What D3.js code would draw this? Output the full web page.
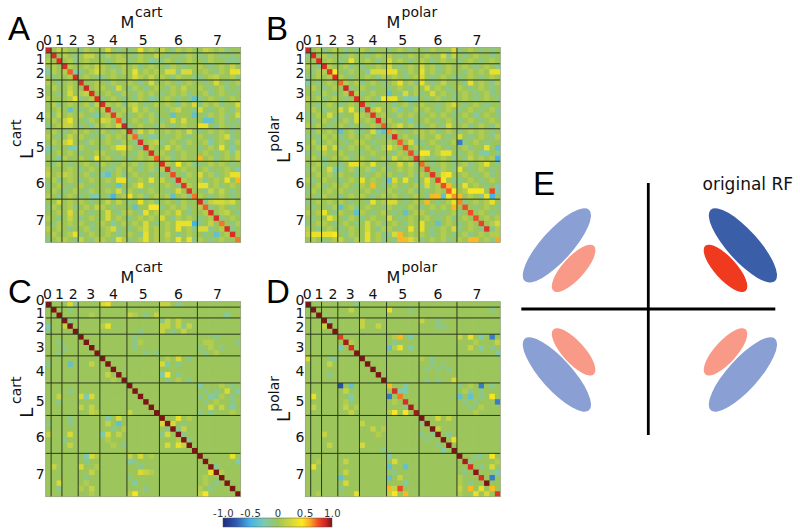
<!DOCTYPE html>
<html><head><meta charset="utf-8">
<script src="https://cdnjs.cloudflare.com/ajax/libs/d3/7.8.5/d3.min.js"></script>
<style>html,body{margin:0;padding:0;background:#fff}svg{display:block}</style>
</head><body><svg id="c" width="800" height="531"></svg>
<script>
// ---- tick labels / categories ----
const groupSizes = [1,2,3,4,5,6,7,8];
const groupLabels = ["0","1","2","3","4","5","6","7"];
const topLabelAt  = [0.24,2.45,5.0,8.2,12.4,17.9,24.4,31.6];
const leftLabelAt = [-0.28,2.1,4.7,8.4,12.8,18.4,25.0,31.8];
const barTicks = [-1,-0.5,0,0.5,1];
const barTickLabels = ["-1.0","-0.5","0","0.5","1.0"];
// ---- value codes used by the matrix rows ----
const codeValues = {".":0,"a":-0.12,"b":-0.22,"c":-0.36,"d":-0.5,"e":-0.66,"f":-0.8,
  "1":0.1,"2":0.18,"3":0.26,"4":0.35,"5":0.43,"6":0.56,"8":0.76};
// ---- panel A (rows split by the 1,2,...,8 groups) ----
const rowsA = [
". .2 1.. a1.. .3.a. a.4.1. 2.a1.1. .21.1a..",
". .. 1.a .22. a1.1. .a1..2 .a..a1. a.1.a.a.",
"1 .. .1a .1.. .a.11 a.1.ba a1.a.1. .a1..aaa",
". 1. .1. .1.2 1.a.1 .1a.1. .a1.a.. 1.a.1.2.",
"b 1. 1.b a.13 1.1a1 .4.1.1 .33a33. .1.a1.44",
". a. .1a .1.a a.1.. .31.2. 1.a1..a a.12..1a",
"1 .a .1. 1..1 .a1.. 1.a.3. .1.a.1. .a.3.a.1",
". 1. .2. .a.1 1.a3. a1.a.1 .a1.2.. 1.a.1a.a",
". .a .3. 12a. .1.a1 .a1.1. a.1.1a. .1a.1.a.",
"1 .. .14 a.1. a.1.a .a1.ba .1.a.ac a.1.a.1.",
". 1a .1. .1a2 .1.1a 12.a.1 .1.a1.3 a1.1a..3",
". .1 .c. a.1. 1.a.1 .3.1a. .a12..a 3.a.1.a1",
"1 a2 .1. 1.ab .1.1. a.1.1a ..c...c .a1.1a.3",
". 1. 24. .a1. 32.1a .1.a1. a.3.3.. .cc.1a.a",
"a .1 22. a.b1 .1.3. a.1..a 1.a.1.. 44.a1.a.",
". 1. a.1 .1.a 1.a.1 .a3.2. .1.1.3. a.1.1.a.",
"1 .a .2. 1.a. a1.1. 1.a.ba .a.1.a. 1.a.13a.",
". 1. 24. .a1. .1.a1 .a1.12 a.1.a1. .1b.1.a1",
"b a. .bb 1.a. a.144 1.a.1. .3.1a.. a.1.4.b.",
"a .1 .1. a..1 1.a.1 .a1.a. 1.a.1.. .1.a.1a2",
". .b 1.. 1.a5 .1.a. a.1.1a .1a.1.. 6.1a.1.2",
". a1 .a. .1.a 1.a.1 .1a.1. .1.5.1a a.1.1.a.",
"1 .. .1. a.1. .aa1. 1.a.1a 1.a.1.. .1a..1.b",
"2 .1 21. .1a. bc.1a .1..a. a.1.a1. 3.1a.144",
". 1a .1. a.1. .1.44 a.1.4. 2.a.1.. 1a.1.4.6",
"a .1 .a. 1.a. .a.c. .14.a. .1.a.1. 44.1a.1.",
". 1. a.1 .a1. .1.3a 1.a.1. .a.3.1. .a2.2.a.",
"1 .a .1. a.bb .ad.1 4.1a.1 .1c.1a. 1.a.1.a.",
". .3 .1. 1.a. .2.2. a.4.1a .1.a1.. .a23323.",
"a 1. .1a .1.2 1.a.. .c..55 a.1.1a. 1.a.1.a.",
". .1 .3. 1.a. .3.a1 1.a4.1 .1.3.a. .1a.12.a",
"1 .a .2. a.1. .3.1. a.1.1. 3.a1.1. a.1.a.1.",
". a1 .1. 1.a. 1.b.1 .1.3.a .1.444d a.2.1.a1",
"1 .1 .a. .1a. .13a. a.13.1 .1.4.1a 33a.1.a.",
". 1. .14 a.1. .1.a. 1.a4.1 .2.a.1. .a.c.1a.",
"a .1 1.a 2.a1 1.a41 a.14.1 .1.4.4a 1.a.1..1"];
const diagA = [.88,.85,.85,.85,.72,.85,.85,.88,.85,.85,.85,.85,.8,.72,.88,.85,.7,.85,.85,.85,.72,.85,.85,.75,.85,.82,.82,.68,.85,.72,.85,.85,.68,.85,.85,.68];
// ---- panel B ----
const rowsB = [
". .1 a.1 .a.a 1.a.. a.1.a. .a1...3 a.1.a.a.",
"a .. 1a. .a1. .a.1. 1.a.1. .1..3a2 .a.1..a.",
". .. .1. a.4. .1.a. 3.1.a. 1.a.1.. a.1.a.1.",
"1 .a .1. .1a. a..1. 3.a.1. 3.1a.1. .1.a.1.a",
". a1 1.5 .a1. .b333 44.a1. 4.1a.1. .a1.1.44",
"a .1 .1. 1.a. .1.a1 .1.a.1 3.a.1.a a.1.a.1.",
"b .a .1. .1.1 a.1.a .14.1a 4.a.2.. .a4.1.a1",
". 1. a.1 .1a. 1.a.. a.1.a1 .3.1.a. 1.a.1.a.",
". .a 1.a .1.1 a.1.. c.a3.1 a.3.1.a .1.a.1a.",
"1 .1 a.1 .a.a .1.a5 44.bbb .a.1a.a .1.a.1.a",
". .a .1. a.1. 1.a.. .a.1a. 1..a.13 .a.1.a..",
". 1. a.. 3.4. a.13. .1b.a1 .1.a.1. a.1.a.1a",
"a .1 .3. a..3 1.a.1 .a1.1. a.1.1.a .1.b.1.a",
". a. 1.a .1a3 .1.a. 1.a.b. .1.a.1. a.1.a.1.",
"1 .1 .a. 1.a. a.1.1 .13.1a a.1.a3. .1a.1.a1",
". a1 .1. c.1a a.3bc .1.a.1 1.1a.1. a.1.1.a.",
"a .a 1.1 a.1. .1.a. a2.1.a 1..2.a. 3.a.1.a1",
". 1a .1. .a.1 1.a.. 1.a.3a a.1.a.1 ea.1.a..",
"1 .1 3.3 a.1. .1.a1 41.a.1 .a.1.a. .1a..4.c",
"a .a 1.. 1.a. a.1.. .a1.1a 55.144. a.1.bb.a",
". 1. a.1 .1a. 1.a.1 a3.1.a 1.a.1.a .a2.1.1d",
". .1 a.. a.44 1.4.a ..3.2a 1.a.1.a .1a.14.a",
"a 1. .3b b.1a .1b.1 a.1.1. .4.a1.a 4.a.1.a.",
". .1 .1a 1..a .a.1. 1.a.1a 1.a.45. .1.a.1a.",
"1 a. 1.. a.1. 4.1.a c3.4.a .4.a5.a a.1.a.1.",
". .1 a.1 .1.a 1.6.a .1.a.1 a3.1.6. .4.1.a.b",
"a 1. .1. 1.a. .1.a. 1.a.1a .a.1.a5 .1555.8b",
". .a 1.. a.1. 1.a.1 .1.a.1 .a66c56 6.1.a4d.",
"a .1 .1. 1.a. .a4.1 33.a.1 .6.a.14 .a.1.14.",
". a. .a1 c.1a .1..a 1.a.1. a.1.1.6 .1.a.1.a",
"1 .1 4.a 1..c 1.a.1 .a.c.1 1.a.a.1 a.1.1.a.",
". a. .41 .a1. a.1.. 3.a.1. .1.a.1a .1.a.1.1",
"a .1 1.a .1.a .3.1a .1.a1. 4..c.1. a.1.a.13",
"1 .a .1. a.1. .3.a1 1.a.4. 4.a.1.3 a.1.a.a1",
"2 44 445 .a1. .4.1a a36.1. 1.a.1.a .1a.1.a1",
". 1. a.1 2.a1 .4.1a .a6631 a.1.1a. 1.66.1a6"];
const diagB = [.88,.85,.85,.85,.82,.85,.7,.88,.82,.85,.85,.82,.82,.85,.72,.62,.85,.72,.75,.75,.8,.7,.75,.82,.8,.75,.72,.62,.65,.75,.75,.75,.78,.82,.1,.6];
// ---- panel C ----
const rowsC = [
". .. .3a .... 34... ...... 22.a... ........",
". .. .a. .... ..... ...... ....... ........",
". .. ... ..1. ..... 21.a.2 ....... .....b..",
". .. .a. .... ..... ...... a2.2... ........",
"b .. 2.. .... 14... ...... 22.2a2. ........",
"a .. ... .... ..... ..a... 2.a.2.. ........",
". .. ... .... ..... .a.... ....... ...a....",
". .a ... .... ..... .a1... ....... .11....a",
". .. a.. .... ..... .a.... ....... a.1.a...",
". .a ... .... ..... ...a.a ....... .a.1....",
". .. ... .... ..... ...... .1.3.a. ........",
"a .. .c. ..2. .a... ...... 3b.a... ........",
". .. ... .... ..... ...... ....... ........",
". .. ... .... .2... ...... b5.a... ........",
". .. ... .... ..1.. ...... .a.1.a. ........",
". .. ... .... ..... a..... ....... b...1.a.",
". .. .a. .... ..... ...... ....... .a.a.3.b",
". .2 ... 3b3. ..... ...... ....... a.ba1.a.",
". .a ... .... ..... ...... ....... .a.1..a.",
". .. ... 2.2. ..... ...... ....... ..3.2.b.",
". .. ... ..21 ..... 2..... ....... a.a...1.",
". .. .a. .... .b.3. ...... ...4.1. ........",
"a .. .a. .... .2.c. ...... 3.3.a.. ........",
". .. ... .... ..a.1 ...... .a.a2.. ........",
"2 .. .3. .... b3.2. ...... a3..a.. ........",
". .. a.. .... .1... ...... ...1.a. ........",
". .. .2. .... ..1.a ...... .3.42.. ........",
". .. ... .... ..... ...... ....... ........",
". .. ... .b31 ..... 2.3.1. ....... ......4.",
". .. ... .a.. ..... ba.... ....... .......b",
". 2. ... 3..1 ..... ..a... ....... ...a....",
". .. ... ..2. ..... ..321. ....... ..4.1...",
". .. ... .a.. ..... a..... ....... .1......",
". .3 ... .1.. ..... .b.... ....... .1.a....",
". .a ... 1.2. ..... ...a.. ....... 1.a.....",
". .. ... ..1. ..... 15.... ....... 25......"];
const diagC = [1,1,1,1,1,1,1,1,1,1,1,1,1,1,1,1,1,1,1,1,1,1,1,1,1,1,1,1,1,1,1,1,1,1,1,1];
// ---- panel D ----
const rowsD = [
". .. ... ...a ..... ...... ....... ........",
". .. ... ..2. ..... 4...a. ....... ......a.",
". .. ... .... ..... ...... ....... ........",
". .. .a. .... 2.... ...... 2..a... ........",
". .. 2.. .... 2..2. ...... ...aa.. ........",
". .. ... .... ..... ...... ....... ........",
". .. ... .... ..... .16.b. ....... 2.4.b.e.",
". .. ... .11. ..... .a.... ....... ...1...2",
". .. ... b.a. ..... c14.b. ....... ..2.b.a.",
". .. ... .... ..... ...... ....... .......b",
"3 .. .aa .... ..... ...... 1.a.... ........",
". .. .2. .... ..... ...... ..a.a.. ........",
". .. ... .... ..... ...... .a.a.a. ........",
". .. .a. .... ..... ...... ....... ........",
". .. ... .... ..... ...... .a.a..3 ........",
". .. ... f.c. ..... ...b.. ....... a.1.e.a.",
". .. ... .2.. ..... ..bb.. ....... .1a.a...",
". 4. ... ..b. ..... e..... ....... c.c.a.5.",
". .. ... .1a. ..... .1.... ....... .a.a...e",
". 2. ... .2.1 ..... ...a.. ....... ..a.1...",
". .. ... ..2. ..... 15.5.. ....... ...1....",
". .. ... .... ..... ...... ...3.2. ........",
". .. ... .... 2.... ...... a...... ........",
". .. ... .... ..2.1 ...... ...2... ........",
". .. 2.. .... ...1. ...... a.a..a. ........",
". .. ... .... ..... ...... .a....4 ........",
". .. .2. .... 3.... ...... ...a... ........",
". .. ... .... ....a ...... ....b.. ........",
". .. ... .... ..... b..... ....... ...aa.5.",
". .1 ... .2.. ..... .3.... ....... ..a....1",
". 4. ... .... ..... c..c.. ....... ....a.3.",
". .. ... .2.. ..... .a.... ....... .a....ab",
". .. ... c... ..... c.2... ....... 1...a.e.",
". .. ... .3.. ..... ...b.. ....... 1.a.....",
". .. ... a... ..... 628... ....... 2.6.4.5.",
". .1 ... ...4 ..... 25.6.. ....... 1..4.3.8"];
const diagD = [1,1,1,1,1,1,.8,.93,.85,1,1,1,1,1,1,.55,.85,.68,.85,.93,.95,1,1,1,1,1,1,1,1,.93,.85,.97,.85,1,.55,.82];
// ---- colour map ----
const colorStops = [-1,-0.75,-0.5,-0.25,0,0.25,0.45,0.6,0.75,0.87,1];
const colorHexes = ["#1d2a80","#2f5cb0","#45b4ea","#7cc9b5","#9cc65c","#d4d83a","#fde81e","#f9a824","#f04a26","#d42828","#7a1414"];
// ---- panel E: lobes of the receptive field ----
const lobeX = [0.745,0.608,-0.72,-0.588,-0.72,-0.588,0.745,0.608];
const lobeY = [0.505,0.323,0.505,0.323,-0.52,-0.34,-0.52,-0.34];
const lobeLong = [0.378,0.238,0.378,0.238,0.378,0.238,0.378,0.238];
const lobeShort = [0.122,0.087,0.122,0.087,0.122,0.087,0.122,0.087];
const lobeTilt = [48,48,-48,-48,48,48,-48,-48];
const lobeFill = ["#3b5ea8","#f03a20","#8aa0d4","#f99a88","#8aa0d4","#f99a88","#8aa0d4","#f99a88"];

const svg = d3.select("#c");
const SANS = "'DejaVu Sans',sans-serif", HEAD = "'Liberation Sans',Arial,sans-serif";
const color = d3.scaleLinear().domain(colorStops).range(colorHexes).clamp(true);
const boundaries = d3.cumsum(groupSizes).slice(0,-1);

const defs = svg.append("defs");
defs.append("filter").attr("id","soft").attr("x","-2%").attr("y","-2%").attr("width","104%").attr("height","104%")
  .append("feGaussianBlur").attr("stdDeviation",0.45);

const panels = [
 {rows:rowsA,diag:diagA,x:45.7,y:47.5,letter:"A",lx:8,ly:39.5,m:"cart",mx:120.5,my:28,sx:135,sy:17,Lx:33,Ly:159,Sx:21,Sy:147},
 {rows:rowsB,diag:diagB,x:305.3,y:47.5,letter:"B",lx:266,ly:39.5,m:"polar",mx:386.5,my:28,sx:401.5,sy:17,Lx:290,Ly:163,Sx:279,Sy:151.7},
 {rows:rowsC,diag:diagC,x:45.7,y:301.7,letter:"C",lx:8,ly:302.7,m:"cart",mx:120.5,my:283.3,sx:135,sy:271.7,Lx:33,Ly:417.7,Sx:21,Sy:404},
 {rows:rowsD,diag:diagD,x:305.3,y:301.7,letter:"D",lx:266,ly:302.7,m:"polar",mx:386.5,my:283.3,sx:401.5,sy:271.7,Lx:290,Ly:422,Sx:279,Sy:411.7}
];
const SIZE = 195;
panels.forEach(p=>{
  const x = d3.scaleLinear().domain([0,36]).range([p.x,p.x+SIZE]);
  const y = d3.scaleLinear().domain([0,36]).range([p.y,p.y+SIZE]);
  const cells = [];
  p.rows.forEach((r,i)=>{
    r.replace(/ /g,"").split("").forEach((ch,j)=>cells.push({i,j,v: i===j ? p.diag[i] : codeValues[ch]}));
  });
  const g = svg.append("g");
  const cg = g.append("g").attr("filter","url(#soft)");
  // paint from the top-left so each cell's slight overlap hides the seam with its neighbour
  cg.selectAll("rect").data(cells).join("rect")
    .attr("x",d=>x(d.j)).attr("y",d=>y(d.i))
    .attr("width",d=>x(d.j+1)-x(d.j)+(d.j<35?0.7:0)).attr("height",d=>y(d.i+1)-y(d.i)+(d.i<35?0.7:0))
    .attr("fill",d=>color(d.v));
  g.selectAll("line.v").data(boundaries).join("line").attr("class","v")
    .attr("x1",d=>x(d)).attr("x2",d=>x(d)).attr("y1",y(0)).attr("y2",y(36))
    .attr("stroke","#2c3a1e").attr("stroke-width",1);
  g.selectAll("line.h").data(boundaries).join("line").attr("class","h")
    .attr("y1",d=>y(d)).attr("y2",d=>y(d)).attr("x1",x(0)).attr("x2",x(36))
    .attr("stroke","#2c3a1e").attr("stroke-width",1);
  g.append("rect").attr("x",x(0)).attr("y",y(0)).attr("width",SIZE).attr("height",SIZE)
    .attr("fill","none").attr("stroke","#8a9a78").attr("stroke-width",0.7);

  const top = svg.append("g").attr("transform",`translate(0,${p.y})`)
    .call(d3.axisTop(x).tickValues(topLabelAt).tickSize(0).tickPadding(2.5).tickFormat((d,i)=>groupLabels[i]));
  const left = svg.append("g").attr("transform",`translate(${p.x},0)`)
    .call(d3.axisLeft(y).tickValues(leftLabelAt).tickSize(0).tickPadding(1).tickFormat((d,i)=>groupLabels[i]));
  [top,left].forEach(a=>{a.select(".domain").remove();
    a.selectAll("text").attr("font-family",SANS).attr("font-size",14).attr("fill","#111");});

  svg.append("text").attr("x",p.lx).attr("y",p.ly).attr("font-family",HEAD).attr("font-size",33).attr("fill","#000").text(p.letter);
  svg.append("text").attr("x",p.mx).attr("y",p.my).attr("font-family",SANS).attr("font-size",16).attr("fill","#111").text("M");
  svg.append("text").attr("x",p.sx).attr("y",p.sy).attr("font-family",SANS).attr("font-size",14).attr("fill","#111").text(p.m);
  svg.append("text").attr("transform",`translate(${p.Lx},${p.Ly}) rotate(-90)`).attr("font-family",SANS).attr("font-size",18).attr("fill","#111").text("L");
  svg.append("text").attr("transform",`translate(${p.Sx},${p.Sy}) rotate(-90)`).attr("font-family",SANS).attr("font-size",14).attr("fill","#111").text(p.m);
});

// colour bar
const bx = d3.scaleLinear().domain([-1,1]).range([223,332]);
const grad = defs.append("linearGradient").attr("id","cb");
grad.selectAll("stop").data(colorStops).join("stop")
  .attr("offset",d=>((d+1)/2*100)+"%").attr("stop-color",d=>color(d));
svg.append("rect").attr("x",bx(-1)).attr("y",518).attr("width",bx(1)-bx(-1)).attr("height",9)
  .attr("fill","url(#cb)").attr("stroke","#555").attr("stroke-width",0.5);
const barAxis = svg.append("g").attr("transform","translate(0,518)")
  .call(d3.axisTop(bx).tickValues(barTicks).tickSize(0).tickPadding(1.5).tickFormat((d,i)=>barTickLabels[i]));
barAxis.select(".domain").remove();
barAxis.selectAll("text").attr("font-family",SANS).attr("font-size",10).attr("fill","#333").attr("letter-spacing",0.4);

// panel E
const rx = d3.scaleLinear().domain([-1,1]).range([521.3,775.3]);
const ry = d3.scaleLinear().domain([-1,1]).range([435,183]);
const unit = rx(1)-rx(0);
svg.selectAll("ellipse.lobe").data(d3.range(lobeX.length)).join("ellipse").attr("class","lobe")
  .attr("cx",0).attr("cy",0)
  .attr("rx",i=>lobeLong[i]*unit).attr("ry",i=>lobeShort[i]*unit)
  .attr("fill",i=>lobeFill[i])
  .attr("transform",i=>`translate(${rx(lobeX[i])},${ry(lobeY[i])}) rotate(${lobeTilt[i]})`);
svg.append("line").attr("x1",rx(0)).attr("x2",rx(0)).attr("y1",ry(1)).attr("y2",ry(-1)).attr("stroke","#000").attr("stroke-width",2.8);
svg.append("line").attr("x1",rx(-1)).attr("x2",rx(1)).attr("y1",309).attr("y2",309).attr("stroke","#000").attr("stroke-width",2.8);
svg.append("text").attr("x",533).attr("y",195).attr("font-family",HEAD).attr("font-size",33).attr("fill","#000").text("E");
svg.append("text").attr("x",702.5).attr("y",190).attr("font-family",SANS).attr("font-size",17).attr("fill","#111").text("original RF");
</script></body></html>
